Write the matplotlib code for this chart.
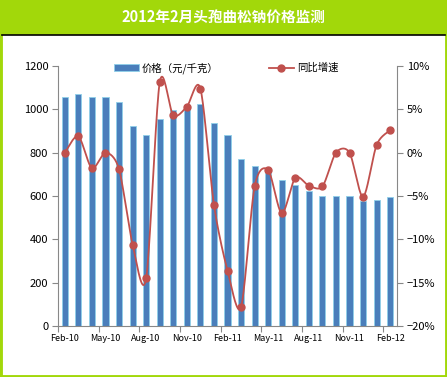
import numpy as np
import matplotlib.pyplot as plt
from matplotlib.patches import Rectangle
from matplotlib.lines import Line2D

plt.rcParams['font.family'] = ['Noto Sans CJK SC', 'DejaVu Sans']

# -------- datos --------
months = ['Feb-10', 'Mar-10', 'Apr-10', 'May-10', 'Jun-10', 'Jul-10', 'Aug-10', 'Sep-10',
          'Oct-10', 'Nov-10', 'Dec-10', 'Jan-11', 'Feb-11', 'Mar-11', 'Apr-11', 'May-11',
          'Jun-11', 'Jul-11', 'Aug-11', 'Sep-11', 'Oct-11', 'Nov-11', 'Dec-11', 'Jan-12',
          'Feb-12']
price = [1055, 1070, 1055, 1055, 1035, 925, 880, 955, 995, 1000, 1025, 935, 880,
         770, 740, 715, 675, 650, 625, 600, 600, 600, 575, 580, 595]
yoy = [0.0, 1.9, -1.8, 0.0, -1.9, -10.6, -14.5, 8.1, 4.3, 5.3, 7.4, -6.0, -13.6,
       -17.8, -3.9, -2.0, -7.0, -2.9, -3.8, -3.9, 0.0, 0.0, -5.1, 0.9, 2.6]
tick_labels = ['Feb-10', 'May-10', 'Aug-10', 'Nov-10', 'Feb-11', 'May-11', 'Aug-11',
               'Nov-11', 'Feb-12']
title = '2012年2月头孢曲松钠价格监测'

green = '#A2D80A'
bar_c = '#4A7EBB'
line_c = '#C0504D'


def smooth(x, y, n=20, k=0.85):
    # curva suavizada tipo Excel (Catmull-Rom, tangentes un poco reducidas)
    x = np.asarray(x, float)
    y = np.asarray(y, float)
    px = np.concatenate([[x[0]], x, [x[-1]]])
    py = np.concatenate([[y[0]], y, [y[-1]]])
    xs, ys = [], []
    t = np.linspace(0, 1, n, endpoint=False)
    h00 = 2 * t ** 3 - 3 * t ** 2 + 1
    h10 = t ** 3 - 2 * t ** 2 + t
    h01 = -2 * t ** 3 + 3 * t ** 2
    h11 = t ** 3 - t ** 2
    for i in range(1, len(px) - 2):
        for p, out in ((px, xs), (py, ys)):
            m1 = k * 0.5 * (p[i + 1] - p[i - 1])
            m2 = k * 0.5 * (p[i + 2] - p[i])
            out.extend(h00 * p[i] + h10 * m1 + h01 * p[i + 1] + h11 * m2)
    xs.append(x[-1])
    ys.append(y[-1])
    return xs, ys


fig = plt.figure(figsize=(4.47, 3.77), dpi=100)
fig.patch.set_facecolor('white')

# marco verde y barra de titulo
fig.patches.append(Rectangle((0, 0), 1, 1, transform=fig.transFigure, facecolor='none',
                             edgecolor=green, linewidth=3.5, zorder=0))
fig.patches.append(Rectangle((0, 1 - 35 / 377), 1, 35 / 377, transform=fig.transFigure,
                             facecolor=green, edgecolor='none', zorder=0))
fig.lines.append(Line2D([2 / 447, 445 / 447], [1 - 35 / 377] * 2, transform=fig.transFigure,
                        color='black', linewidth=1.2))
fig.text(0.5, 1 - 17 / 377, title, ha='center', va='center', color='white',
         fontsize=10.5, fontweight='bold')

ax = fig.add_axes([58 / 447, 1 - 326 / 377, 339 / 447, 260 / 377])
x = np.arange(len(months))
ax.bar(x, price, width=0.45, color=bar_c, edgecolor='#8FD0EA', linewidth=0.6, zorder=2)
ax.set_xlim(-0.5, len(months) - 0.5)
ax.set_ylim(0, 1200)
ax.set_yticks(np.arange(0, 1201, 200))
ax.tick_params(axis='y', labelsize=8, length=4, color='#888888', pad=3)
ax.set_xticks(np.arange(-0.5, len(months), 3))
ax.set_xticklabels([])
ax.set_xticks(np.arange(0, len(months), 3), minor=True)
ax.set_xticklabels(tick_labels, minor=True)
ax.tick_params(axis='x', which='major', length=4, color='#888888')
ax.tick_params(axis='x', which='minor', length=0, labelsize=6.5, pad=6)
for s in ['top', 'right']:
    ax.spines[s].set_visible(False)
for s in ['left', 'bottom']:
    ax.spines[s].set_color('#888888')

ax2 = ax.twinx()
xs, ys = smooth(x, yoy)
ax2.plot(xs, ys, color=line_c, linewidth=1.3, zorder=3)
ax2.plot(x, yoy, 'o', color=line_c, markersize=5, zorder=4)
ax2.set_ylim(-20, 10)
ax2.set_yticks(np.arange(-20, 11, 5))
ax2.set_yticklabels([f'{v}%'.replace('-', '\u2212') for v in range(-20, 11, 5)])
ax2.tick_params(axis='y', labelsize=8, length=4, color='#888888', pad=3)
for s in ['top', 'left', 'bottom']:
    ax2.spines[s].set_visible(False)
ax2.spines['right'].set_color('#888888')

h1 = Rectangle((0, 0), 1, 1, facecolor=bar_c, edgecolor='#8FD0EA', linewidth=0.6)
h2 = Line2D([], [], color=line_c, marker='o', markersize=5, linewidth=1.3)
fig.legend([h1, h2], ['价格（元/千克）', '同比增速'], loc='center',
           bbox_to_anchor=(226 / 447, 1 - 68 / 377), ncol=2, frameon=False,
           fontsize=7.5, handlelength=2.4, columnspacing=4.8, handletextpad=0.3)

plt.savefig('out.png', dpi=100)
